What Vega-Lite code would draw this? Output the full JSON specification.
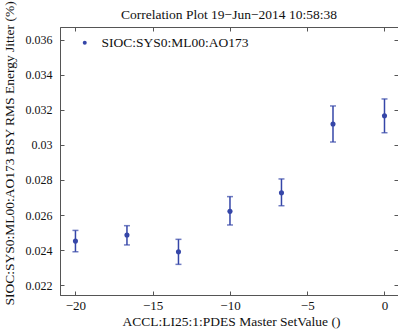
{
  "$schema": "https://vega.github.io/schema/vega-lite/v6.json",
  "width": 338,
  "height": 268,
  "autosize": "none",
  "padding": {"left": 60, "top": 27, "right": 0, "bottom": 35},
  "background": "white",
  "config": {
    "font": "Liberation Serif",
    "view": {"stroke": "#555", "strokeWidth": 1},
    "axis": {"grid": false}
  },
  "title": {
    "text": "Correlation Plot 19\u2212Jun\u22122014 10:58:38",
    "font": "Liberation Serif",
    "fontSize": 13.5,
    "fontWeight": "normal",
    "color": "#111",
    "anchor": "middle",
    "frame": "group",
    "baseline": "alphabetic",
    "offset": 9.5,
    "dy": 41.5
  },
  "data": {
    "values": [
      {"setvalue": -20, "jitter": 0.02451, "lo": 0.02390, "hi": 0.02512, "series": "SIOC:SYS0:ML00:AO173"},
      {"setvalue": -16.667, "jitter": 0.02486, "lo": 0.02429, "hi": 0.02539, "series": "SIOC:SYS0:ML00:AO173"},
      {"setvalue": -13.333, "jitter": 0.02390, "lo": 0.02318, "hi": 0.02461, "series": "SIOC:SYS0:ML00:AO173"},
      {"setvalue": -10, "jitter": 0.02621, "lo": 0.02543, "hi": 0.02705, "series": "SIOC:SYS0:ML00:AO173"},
      {"setvalue": -6.667, "jitter": 0.02727, "lo": 0.02653, "hi": 0.02806, "series": "SIOC:SYS0:ML00:AO173"},
      {"setvalue": -3.333, "jitter": 0.03120, "lo": 0.03017, "hi": 0.03223, "series": "SIOC:SYS0:ML00:AO173"},
      {"setvalue": 0, "jitter": 0.03167, "lo": 0.03070, "hi": 0.03263, "series": "SIOC:SYS0:ML00:AO173"}
    ]
  },
  "resolve": {"axis": {"x": "independent", "y": "independent"}},
  "layer": [
    {
      "mark": {"type": "rule", "color": "#3546a8", "strokeWidth": 1.5},
      "encoding": {
        "x": {
          "field": "setvalue", "type": "quantitative",
          "scale": {"domain": [-21, 0.874], "nice": false, "zero": false},
          "axis": {
            "orient": "bottom",
            "values": [-20, -15, -10, -5, 0],
            "title": "ACCL:LI25:1:PDES Master SetValue ()",
            "titleFont": "Liberation Serif", "titleFontSize": 13.5, "titleFontWeight": "normal", "titleColor": "#111",
            "titleBaseline": "alphabetic", "titleAlign": "center", "titleX": 171, "titleY": 30,
            "labelFont": "Liberation Serif", "labelFontSize": 13, "labelColor": "#111",
            "labelPadding": 8, "labelFlush": false,
            "tickSize": -4, "tickColor": "#555", "domainColor": "#555"
          }
        },
        "y": {
          "field": "lo", "type": "quantitative",
          "scale": {"domain": [0.02143, 0.03674], "nice": false, "zero": false},
          "axis": {
            "orient": "left",
            "values": [0.022, 0.024, 0.026, 0.028, 0.03, 0.032, 0.034, 0.036],
            "format": ".3~f",
            "title": "SIOC:SYS0:ML00:AO173 BSY RMS Energy Jitter (%)",
            "titleFont": "Liberation Serif", "titleFontSize": 13.5, "titleFontWeight": "normal", "titleColor": "#111",
            "titleAngle": 270, "titleAlign": "left", "titleBaseline": "alphabetic",
            "titleX": -47, "titleY": 278,
            "labelFont": "Liberation Serif", "labelFontSize": 12, "labelColor": "#111",
            "labelPadding": 12, "labelFlush": false,
            "tickSize": -4, "tickColor": "#555", "domainColor": "#555"
          }
        },
        "y2": {"field": "hi"}
      }
    },
    {
      "mark": {"type": "tick", "orient": "horizontal", "color": "#3546a8", "thickness": 1.5, "size": 6},
      "encoding": {
        "x": {"field": "setvalue", "type": "quantitative", "axis": null},
        "y": {"field": "lo", "type": "quantitative", "axis": null}
      }
    },
    {
      "mark": {"type": "tick", "orient": "horizontal", "color": "#3546a8", "thickness": 1.5, "size": 6},
      "encoding": {
        "x": {"field": "setvalue", "type": "quantitative", "axis": null},
        "y": {"field": "hi", "type": "quantitative", "axis": null}
      }
    },
    {
      "mark": {"type": "point", "filled": true, "opacity": 1, "size": 26, "shape": "circle"},
      "encoding": {
        "x": {
          "field": "setvalue", "type": "quantitative",
          "axis": {"orient": "top", "values": [-20, -15, -10, -5, 0], "labels": false, "title": null, "domain": false, "tickSize": -4, "tickColor": "#555"}
        },
        "y": {
          "field": "jitter", "type": "quantitative",
          "axis": {"orient": "right", "values": [0.022, 0.024, 0.026, 0.028, 0.03, 0.032, 0.034, 0.036], "labels": false, "title": null, "domain": false, "tickSize": -4, "tickColor": "#555"}
        },
        "color": {
          "field": "series", "type": "nominal",
          "scale": {"range": ["#3546a8"]},
          "legend": {
            "title": null, "orient": "none", "legendX": 18, "legendY": 9,
            "symbolType": "circle", "symbolSize": 16, "symbolStrokeWidth": 0,
            "labelFont": "Liberation Serif", "labelFontSize": 13.5, "labelColor": "#111",
            "labelOffset": 10
          }
        }
      }
    }
  ]
}
